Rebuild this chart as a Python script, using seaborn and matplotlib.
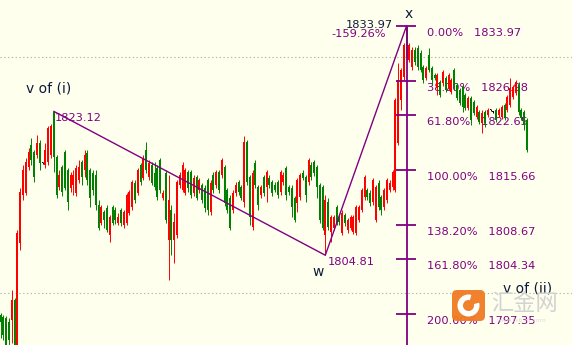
import numpy as np
import pandas as pd
import matplotlib
matplotlib.use("Agg")
import matplotlib.pyplot as plt
import seaborn as sns
from matplotlib.patches import FancyBboxPatch, Wedge
from matplotlib.transforms import IdentityTransform

# ---------------- data ----------------
opens = [
    1797.2, 1797.0, 1796.8, 1796.3, 1796.6, 1799.1, 1792.8, 1806.4, 1812.5, 1812.7,
    1816.0, 1818.8, 1818.0, 1817.6, 1819.1, 1816.5, 1816.3, 1816.7, 1817.6, 1823.0,
    1817.3, 1813.5, 1816.0, 1818.0, 1815.7, 1813.4, 1813.8, 1812.7, 1814.4, 1816.7,
    1815.7, 1817.8, 1815.7, 1815.3, 1815.0, 1811.2, 1808.9, 1810.3, 1810.8, 1807.4,
    1811.0, 1810.6, 1808.9, 1810.6, 1808.7, 1808.9, 1810.2, 1811.0, 1814.0, 1812.7,
    1816.3, 1814.6, 1818.2, 1814.8, 1816.3, 1815.3, 1815.9, 1816.9, 1812.1, 1815.3,
    1806.8, 1810.6, 1806.8, 1807.4, 1813.8, 1813.1, 1812.7, 1815.4, 1815.4, 1812.7,
    1814.8, 1813.1, 1813.8, 1813.4, 1814.4, 1810.3, 1815.0, 1813.8, 1815.4, 1815.0,
    1816.0, 1813.1, 1812.1, 1810.6, 1812.7, 1814.1, 1813.5, 1811.6, 1819.2, 1814.8,
    1808.4, 1816.5, 1813.5, 1812.5, 1814.8, 1813.5, 1814.6, 1814.1, 1813.8, 1814.1,
    1812.9, 1814.1, 1815.9, 1813.5, 1813.4, 1812.1, 1811.5, 1812.2, 1815.3, 1814.8,
    1814.1, 1816.3, 1816.7, 1816.0, 1813.8, 1813.5, 1807.4, 1811.6, 1807.8, 1808.3,
    1811.0, 1809.7, 1807.6, 1809.9, 1808.0, 1808.3, 1807.8, 1807.6, 1809.3, 1810.6,
    1812.2, 1813.1, 1812.7, 1811.6, 1809.3, 1814.0, 1812.2, 1811.0, 1811.8, 1813.1,
    1813.5, 1813.1, 1819.1, 1824.6, 1827.5, 1833.7, 1829.6, 1828.8, 1830.9, 1831.2,
    1830.5, 1828.8, 1827.4, 1830.3, 1828.6, 1827.7, 1826.1, 1826.9, 1826.7, 1827.4,
    1826.1, 1825.6, 1828.4, 1826.5, 1825.8, 1826.2, 1825.2, 1823.5, 1824.8, 1824.3,
    1822.4, 1823.0, 1821.6, 1823.0, 1822.7, 1823.3, 1823.0, 1823.3, 1822.7, 1822.4,
    1823.9, 1823.3, 1823.9, 1824.9, 1825.5, 1826.5, 1823.3, 1823.0, 1822.0,
]
closes = [
    1796.3, 1794.7, 1793.4, 1794.0, 1799.1, 1793.4, 1807.6, 1812.9, 1815.7, 1816.7,
    1818.0, 1816.9, 1814.8, 1819.1, 1816.5, 1816.5, 1818.2, 1821.0, 1821.3, 1817.3,
    1812.5, 1815.0, 1812.9, 1813.4, 1811.6, 1815.0, 1815.0, 1815.9, 1816.0, 1814.8,
    1817.6, 1814.4, 1812.1, 1813.1, 1811.2, 1808.3, 1811.0, 1809.3, 1808.0, 1809.7,
    1808.9, 1809.3, 1809.7, 1808.9, 1810.3, 1812.5, 1812.9, 1814.1, 1811.8, 1815.7,
    1814.1, 1817.2, 1815.7, 1816.5, 1814.0, 1813.5, 1812.2, 1813.1, 1812.7, 1809.3,
    1811.8, 1806.8, 1809.0, 1814.1, 1815.0, 1816.3, 1815.7, 1813.4, 1812.5, 1814.6,
    1812.1, 1814.4, 1811.8, 1810.8, 1810.6, 1814.0, 1813.1, 1815.4, 1813.1, 1816.9,
    1811.5, 1810.6, 1808.3, 1812.7, 1813.8, 1812.9, 1812.1, 1819.2, 1814.1, 1809.7,
    1815.3, 1813.8, 1811.2, 1813.5, 1812.7, 1815.4, 1813.8, 1812.7, 1813.1, 1812.5,
    1815.4, 1815.0, 1812.5, 1812.9, 1811.0, 1809.3, 1814.4, 1815.0, 1814.6, 1812.5,
    1816.9, 1814.8, 1815.3, 1813.5, 1809.3, 1808.3, 1811.8, 1808.4, 1809.7, 1809.7,
    1808.9, 1809.0, 1810.2, 1808.9, 1809.3, 1809.7, 1809.7, 1811.0, 1811.0, 1813.1,
    1814.8, 1812.2, 1811.5, 1814.4, 1813.5, 1811.0, 1810.6, 1813.1, 1814.4, 1814.0,
    1815.4, 1824.6, 1827.1, 1828.4, 1831.6, 1830.0, 1831.6, 1830.9, 1829.4, 1828.8,
    1828.4, 1827.1, 1828.6, 1828.4, 1827.1, 1827.4, 1827.7, 1825.2, 1828.1, 1825.8,
    1827.7, 1827.1, 1826.2, 1824.8, 1824.2, 1823.7, 1823.5, 1824.8, 1822.0, 1822.9,
    1823.7, 1821.8, 1822.9, 1821.6, 1823.3, 1823.3, 1823.0, 1822.0, 1823.3, 1823.7,
    1822.3, 1824.9, 1826.1, 1826.2, 1826.9, 1823.0, 1822.3, 1821.4, 1818.2,
]
highs = [
    1797.5, 1797.2, 1797.1, 1796.8, 1800.4, 1799.4, 1808.0, 1813.4, 1816.3, 1817.2,
    1818.5, 1819.7, 1818.2, 1820.1, 1819.5, 1816.7, 1819.1, 1821.3, 1821.5, 1823.12,
    1817.6, 1815.7, 1816.3, 1818.2, 1815.9, 1815.4, 1815.7, 1816.3, 1816.9, 1816.9,
    1818.2, 1818.2, 1815.9, 1815.7, 1815.7, 1811.8, 1811.2, 1810.6, 1811.2, 1809.9,
    1811.2, 1811.0, 1810.2, 1810.8, 1810.6, 1812.7, 1813.1, 1814.4, 1814.4, 1815.9,
    1816.5, 1817.6, 1819.2, 1816.9, 1816.7, 1816.7, 1816.3, 1817.2, 1813.1, 1815.7,
    1815.0, 1811.2, 1810.2, 1814.4, 1815.4, 1816.7, 1815.9, 1815.7, 1815.7, 1815.0,
    1815.0, 1814.6, 1814.0, 1813.8, 1814.6, 1814.4, 1815.4, 1815.7, 1815.7, 1817.2,
    1816.3, 1813.4, 1812.5, 1813.1, 1814.1, 1814.4, 1813.8, 1820.0, 1819.5, 1815.0,
    1815.7, 1816.9, 1813.8, 1813.8, 1815.0, 1815.7, 1815.0, 1814.4, 1814.1, 1814.4,
    1815.7, 1815.4, 1816.2, 1813.8, 1813.8, 1812.4, 1814.6, 1815.3, 1815.7, 1815.0,
    1817.2, 1816.7, 1816.9, 1816.3, 1814.0, 1813.8, 1812.5, 1812.1, 1809.9, 1809.9,
    1811.2, 1809.9, 1810.6, 1810.2, 1809.6, 1809.9, 1809.9, 1811.2, 1811.2, 1813.4,
    1815.0, 1813.4, 1813.1, 1814.6, 1813.8, 1814.4, 1812.5, 1813.4, 1814.6, 1814.4,
    1815.7, 1824.8, 1829.3, 1828.6, 1831.8, 1833.97, 1831.8, 1831.3, 1831.3, 1831.6,
    1830.9, 1829.0, 1828.9, 1831.2, 1828.9, 1828.0, 1828.0, 1827.1, 1828.4, 1827.6,
    1828.0, 1827.4, 1828.6, 1826.7, 1826.1, 1826.5, 1825.4, 1825.1, 1825.1, 1824.6,
    1823.9, 1823.3, 1823.3, 1823.3, 1823.5, 1823.4, 1823.2, 1823.5, 1823.5, 1823.9,
    1824.2, 1825.2, 1827.4, 1826.5, 1827.1, 1826.9, 1823.5, 1823.3, 1822.3,
]
lows = [
    1794.3, 1794.0, 1792.8, 1792.8, 1793.6, 1792.8, 1792.5, 1805.5, 1811.8, 1812.5,
    1815.7, 1816.3, 1814.1, 1817.2, 1815.7, 1816.4, 1815.9, 1816.3, 1817.2, 1815.4,
    1812.1, 1813.1, 1812.4, 1813.1, 1810.6, 1812.9, 1812.5, 1812.4, 1814.0, 1813.8,
    1814.8, 1813.8, 1811.0, 1812.5, 1810.6, 1808.0, 1808.7, 1808.3, 1807.8, 1806.5,
    1808.7, 1808.8, 1808.7, 1808.5, 1808.3, 1808.7, 1809.9, 1810.6, 1811.5, 1812.5,
    1813.8, 1814.4, 1815.3, 1814.4, 1813.8, 1813.1, 1811.8, 1812.7, 1811.8, 1808.9,
    1801.7, 1804.8, 1803.8, 1807.0, 1813.4, 1812.9, 1812.5, 1812.9, 1812.1, 1812.4,
    1811.8, 1812.7, 1811.5, 1810.3, 1809.9, 1809.9, 1812.7, 1813.4, 1812.7, 1814.6,
    1811.1, 1810.2, 1808.0, 1810.2, 1812.4, 1812.5, 1811.8, 1811.0, 1813.8, 1808.7,
    1808.0, 1813.4, 1810.6, 1812.1, 1812.4, 1811.6, 1813.4, 1812.4, 1812.9, 1812.1,
    1812.5, 1813.8, 1811.8, 1812.5, 1809.7, 1809.0, 1810.3, 1811.8, 1814.4, 1811.6,
    1813.8, 1814.4, 1814.9, 1812.1, 1808.9, 1808.0, 1804.81, 1808.0, 1806.5, 1808.0,
    1808.7, 1808.7, 1807.4, 1808.5, 1807.6, 1808.0, 1807.5, 1807.4, 1809.0, 1810.3,
    1811.8, 1811.8, 1811.1, 1811.2, 1809.0, 1810.6, 1809.9, 1810.6, 1811.5, 1812.9,
    1813.1, 1812.9, 1818.8, 1823.3, 1827.1, 1829.6, 1829.4, 1828.4, 1829.0, 1828.4,
    1828.1, 1826.7, 1827.1, 1828.1, 1826.5, 1827.1, 1825.2, 1824.9, 1826.3, 1825.6,
    1825.8, 1825.3, 1825.8, 1824.6, 1823.9, 1823.0, 1823.3, 1823.3, 1821.4, 1822.7,
    1822.1, 1821.5, 1820.4, 1821.1, 1822.4, 1823.2, 1822.9, 1821.8, 1822.4, 1822.1,
    1822.0, 1823.0, 1823.7, 1824.7, 1825.2, 1822.7, 1822.0, 1820.7, 1817.9,
]

wave_idx = [19, 116, 145]
wave_price = [1823.12, 1804.81, 1833.97]
wave_names = ["v of (i)", "w", "x"]
next_wave_name = "v of (ii)"

fib_pcts = [0.00, 38.20, 61.80, 100.00, 138.20, 161.80, 200.00]
fib_prices = [1833.97, 1826.98, 1822.65, 1815.66, 1808.67, 1804.34, 1797.35]
ext_pct_label = "-159.26%"
grid_levels = [1830, 1800]

# ---------------- style ----------------
sns.set_theme(style="white")
plt.rcParams["font.family"] = ["DejaVu Sans", "Noto Sans CJK SC"]

BG = "#ffffee"
PURPLE = "#800080"
NAVY = "#0d1b3a"
UP = "#ff0000"
DOWN = "#008000"

fig = plt.figure(figsize=(5.72, 3.45), dpi=100)
fig.patch.set_facecolor(BG)
ax = fig.add_axes([0, 0, 1, 1])
ax.set_facecolor(BG)
ax.set_axis_off()

px = 2.8  # pixels per bar
ax.set_xlim(-0.5 / px, (572 - 0.5) / px)
ax.set_ylim(1793.39, 1837.28)

for lv in grid_levels:
    ax.axhline(lv, color="#b5b5a8", lw=0.8, ls=(0, (1.2, 2.2)), zorder=0.5)

df = pd.DataFrame({"o": opens, "h": highs, "l": lows, "c": closes})
df["i"] = np.arange(len(df))
df["col"] = np.where(df.c > df.o, UP, np.where(df.c < df.o, DOWN, "#000000"))

# Fibonacci labels (drawn beneath the candles)
fx = wave_idx[2]
for pct, pr in zip(fib_pcts, fib_prices):
    ax.annotate(f"{pct:.2f}%   {pr:.2f}", xy=(fx, pr), xytext=(20, -7),
                textcoords="offset pixels", ha="left", va="center",
                color=PURPLE, fontsize=8.2, zorder=1)

# candles
ax.vlines(df.i, df.l, df.h, colors=df.col, lw=0.7, zorder=2)
ax.bar(df.i, np.maximum((df.c - df.o).abs(), 0.12), bottom=np.minimum(df.o, df.c),
       width=0.62, color=df.col, linewidth=0, zorder=2)

# wave line
sns.lineplot(x=wave_idx, y=wave_price, ax=ax, color=PURPLE, lw=1.0,
             sort=False, estimator=None, zorder=3)

# fib vertical line and ticks
ax.vlines(fx, 1793.39, fib_prices[0], color=PURPLE, lw=1.3, zorder=3)
ax.hlines(fib_prices, fx - 3.75, fx + 3.4, color=PURPLE, lw=1.3, zorder=3)

# point labels
ax.annotate(f"{wave_price[0]:.2f}", xy=(wave_idx[0], wave_price[0]), xytext=(1, -6.5),
            textcoords="offset pixels", ha="left", va="center", color=PURPLE,
            fontsize=8.2, zorder=4)
ax.annotate(f"{wave_price[1]:.2f}", xy=(wave_idx[1], wave_price[1]), xytext=(2, -7),
            textcoords="offset pixels", ha="left", va="center", color=PURPLE,
            fontsize=8.2, zorder=4)
ax.annotate(f"{wave_price[2]:.2f}", xy=(wave_idx[2], wave_price[2]), xytext=(-14, 1),
            textcoords="offset pixels", ha="right", va="center", color=NAVY,
            fontsize=8.2, zorder=4)
ax.annotate(ext_pct_label, xy=(wave_idx[2], wave_price[2]), xytext=(-21, -8),
            textcoords="offset pixels", ha="right", va="center", color=PURPLE,
            fontsize=8.2, zorder=4)

ax.annotate(wave_names[0], xy=(wave_idx[0], wave_price[0]), xytext=(-5, 23),
            textcoords="offset pixels", ha="center", va="center", color=NAVY,
            fontsize=10, zorder=4)
ax.annotate(wave_names[1], xy=(wave_idx[1], wave_price[1]), xytext=(-7, -17),
            textcoords="offset pixels", ha="center", va="center", color=NAVY,
            fontsize=10, zorder=4)
ax.annotate(wave_names[2], xy=(wave_idx[2], wave_price[2]), xytext=(2.5, 12),
            textcoords="offset pixels", ha="center", va="center", color=NAVY,
            fontsize=10, zorder=4)

# watermark logo
logo = FancyBboxPatch((452, 24), 33, 31, boxstyle="round,pad=0,rounding_size=5",
                      transform=IdentityTransform(), facecolor="#f07a22",
                      edgecolor="none", alpha=0.95, zorder=5)
fig.patches.append(logo)
fig.patches.append(Wedge((468.5, 39.5), 11, 75, 375, width=5.5,
                         transform=IdentityTransform(), facecolor="white",
                         edgecolor="none", zorder=6))
fig.text(491 / 572, 1 - 304 / 345, "汇金网", fontsize=16, color="#d2d2d2",
         family=["Noto Sans CJK SC"], ha="left", va="center", zorder=6)
fig.text(522 / 572, 1 - 320 / 345, "www.fx678.com", fontsize=4.5, color="#dcdcdc",
         ha="center", va="center", zorder=6)

ax.text(528 / 572, 1 - 288 / 345, next_wave_name, transform=ax.transAxes,
        ha="center", va="center", color=NAVY, fontsize=10, zorder=7)

fig.savefig("out.png", dpi=100, facecolor=BG)
